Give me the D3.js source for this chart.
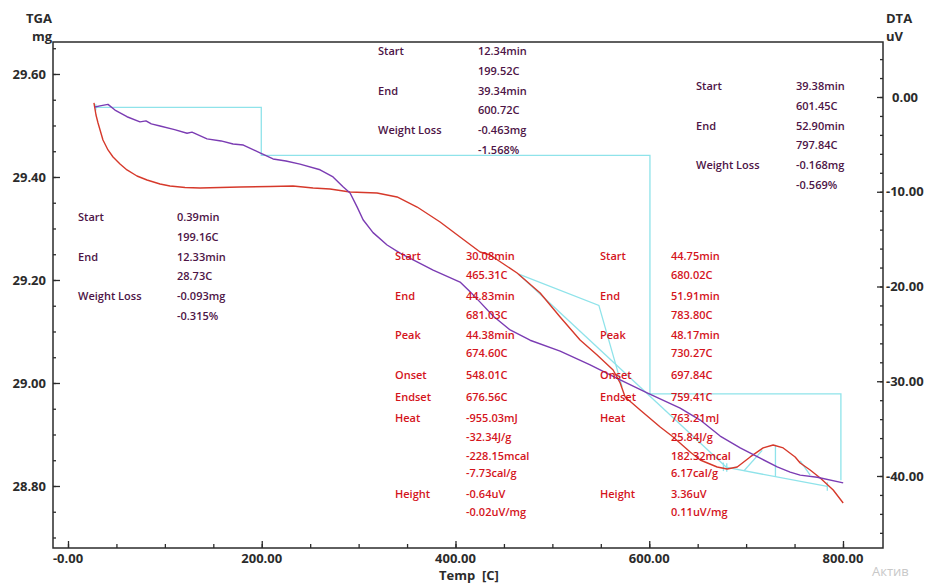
<!DOCTYPE html>
<html>
<head>
<meta charset="utf-8">
<script src="https://cdn.jsdelivr.net/npm/d3@7"></script>
<style>
  html, body { margin: 0; padding: 0; background: #fff; }
  svg { display: block; }
  text { font-family: "Open Sans", "Noto Sans", sans-serif; }
</style>
</head>
<body>
<svg id="chart" width="929" height="583"></svg>
<script>
// ---- TGA curve: temperature (C) and sample mass (mg) ----
const tgaTemp = [27.9, 33.0, 41.3, 48.5, 60.9, 74.3, 80.5, 86.0, 95.0, 110.0, 122.9, 128.0, 143.5,
  158.0, 170.4, 181.0, 198.2, 211.7, 225.0, 239.5, 260.2, 273.6, 283.9, 291.2, 298.4, 304.6, 314.9,
  329.4, 342.8, 360.4, 376.9, 404.7, 415.1, 425.4, 438.8, 456.4, 477.0, 508.0, 539.0, 570.0, 597.8,
  631.9, 652.6, 673.2, 693.9, 714.5, 732.1, 745.5, 755.8, 773.4, 800.2];
const tgaMass = [29.536, 29.538, 29.541, 29.530, 29.517, 29.507, 29.509, 29.503, 29.499, 29.492,
  29.485, 29.487, 29.474, 29.470, 29.464, 29.462, 29.447, 29.435, 29.431, 29.425, 29.414, 29.400,
  29.381, 29.369, 29.342, 29.317, 29.292, 29.268, 29.252, 29.235, 29.219, 29.196, 29.177, 29.157,
  29.130, 29.103, 29.083, 29.062, 29.035, 29.006, 28.981, 28.951, 28.928, 28.897, 28.874, 28.854,
  28.837, 28.827, 28.821, 28.817, 28.806];

// ---- DTA curve: temperature (C) and signal (uV) ----
const dtaTemp = [26.8, 28.9, 31.0, 36.1, 41.3, 46.5, 53.7, 60.9, 71.2, 81.6, 95.0, 105.3, 120.8,
  136.3, 177.6, 208.6, 232.3, 253.0, 270.5, 291.2, 319.0, 339.7, 360.4, 384.1, 404.7, 425.4, 435.7,
  451.2, 463.6, 487.4, 508.0, 528.6, 546.2, 562.7, 570.0, 575.1, 590.6, 611.3, 624.7, 642.2, 652.6,
  670.1, 680.4, 690.8, 704.2, 717.6, 727.9, 738.3, 750.6, 755.8, 766.1, 776.5, 789.9, 800.2];
const dtaSignal = [-0.63, -1.90, -2.74, -4.54, -5.59, -6.33, -7.07, -7.70, -8.34, -8.76, -9.18,
  -9.39, -9.55, -9.60, -9.50, -9.45, -9.39, -9.60, -9.71, -10.03, -10.13, -10.55, -11.61, -13.19,
  -14.78, -16.36, -16.68, -17.73, -18.58, -20.69, -23.22, -25.65, -27.23, -28.81, -30.18, -31.66,
  -33.03, -34.83, -35.88, -37.47, -38.31, -39.05, -39.26, -39.05, -37.99, -37.04, -36.73, -37.04,
  -37.99, -38.63, -39.37, -40.21, -41.48, -42.85];

// ---- TGA weight-loss steps ----
const stepTemps = [28.73, 199.52, 600.72, 797.84];
const stepLoss = [0.093, 0.463, 0.168];
const stepStartMass = 29.535;

// ---- DTA peak analysis (temperature C, signal uV) ----
const peak1Baseline = [[465.31, -18.7], [681.03, -39.2]];
const peak1Onset = [[465.31, -18.7], [548.01, -22.0], [572.0, -30.6]];
const peak1Marks = [676.56, 680.02];
const peak2Baseline = [[680.02, -39.1], [783.80, -41.1]];
const peak2PeakTemp = 730.27;
const peak2Height = 3.36;
const peak2OnsetTemp = 697.84;
const peak2OnsetTangentEnd = [716.6, -37.3];
const peak2EndsetTangent = [[755.8, -38.4], [766.1, -39.9]];

// ---- tick values ----
const xMajorTicks = [0, 200, 400, 600, 800];
const xTickLabels = ["-0.00", "200.00", "400.00", "600.00", "800.00"];
const xMinorTicks = d3.range(0, 801, 50);
const yLeftMajor = [28.80, 29.00, 29.20, 29.40, 29.60];
const yLeftMinor = d3.range(28.70, 29.66, 0.05);
const yRightMajor = [0, -10, -20, -30, -40];
const yRightMinor = d3.range(-46, 5, 2);

// ---- annotation blocks ----
const tgaNotes = [
  { x: 78, vx: 177, y: 217, rows: [["Start", "0.39min"], ["", "199.16C"], ["End", "12.33min"], ["", "28.73C"], ["Weight Loss", "-0.093mg"], ["", "-0.315%"]] },
  { x: 378, vx: 478, y: 51, rows: [["Start", "12.34min"], ["", "199.52C"], ["End", "39.34min"], ["", "600.72C"], ["Weight Loss", "-0.463mg"], ["", "-1.568%"]] },
  { x: 696, vx: 796, y: 86, rows: [["Start", "39.38min"], ["", "601.45C"], ["End", "52.90min"], ["", "797.84C"], ["Weight Loss", "-0.168mg"], ["", "-0.569%"]] }
];
const dtaRowsY = [256, 275, 296, 315, 335, 353, 375, 397, 418, 437, 456, 473, 494, 512];
const dtaNotes = [
  { x: 395, vx: 466, rows: [["Start", "30.08min"], ["", "465.31C"], ["End", "44.83min"], ["", "681.03C"], ["Peak", "44.38min"], ["", "674.60C"], ["Onset", "548.01C"], ["Endset", "676.56C"], ["Heat", "-955.03mJ"], ["", "-32.34J/g"], ["", "-228.15mcal"], ["", "-7.73cal/g"], ["Height", "-0.64uV"], ["", "-0.02uV/mg"]] },
  { x: 600, vx: 671, rows: [["Start", "44.75min"], ["", "680.02C"], ["End", "51.91min"], ["", "783.80C"], ["Peak", "48.17min"], ["", "730.27C"], ["Onset", "697.84C"], ["Endset", "759.41C"], ["Heat", "763.21mJ"], ["", "25.84J/g"], ["", "182.32mcal"], ["", "6.17cal/g"], ["Height", "3.36uV"], ["", "0.11uV/mg"]] }
];

const svg = d3.select("#chart");
const frame = { left: 53, right: 883, top: 42, bottom: 548 };

const x = d3.scaleLinear().domain([-15.48, 841.3]).range([frame.left, frame.right]);
const yL = d3.scaleLinear().domain([28.6796, 29.6621]).range([frame.bottom, frame.top]);
const yR = d3.scaleLinear().domain([-47.6, 5.805]).range([frame.bottom, frame.top]);

const axisColor = "#2b2b2b";
const cyan = "#8fe3ea";
const purple = "#7b3cb3";
const red = "#d6392b";
const noteDark = "#4d1446";
const noteRed = "#d4141c";

// plot frame
svg.append("rect")
  .attr("x", frame.left).attr("y", frame.top)
  .attr("width", frame.right - frame.left).attr("height", frame.bottom - frame.top)
  .attr("fill", "none").attr("stroke", axisColor).attr("stroke-width", 1.5);

// left axis (TGA)
const gL = svg.append("g").attr("transform", `translate(${frame.left},0)`);
gL.call(d3.axisRight(yL).tickValues(yLeftMinor).tickSize(3).tickFormat(""));
gL.call(g => g.append("g").call(d3.axisRight(yL).tickValues(yLeftMajor).tickSize(7).tickFormat("")));
gL.selectAll(".domain").remove();
gL.selectAll("line").attr("stroke", axisColor).attr("stroke-width", 1.3);
svg.append("g").selectAll("text").data(yLeftMajor).join("text")
  .attr("x", 46).attr("y", d => yL(d)).attr("dy", "0.36em")
  .attr("text-anchor", "end").attr("font-size", 13).attr("font-weight", 700)
  .attr("fill", axisColor).text(d => d.toFixed(2));

// right axis (DTA), ticks drawn inward
const gR = svg.append("g").attr("transform", `translate(${frame.right},0)`);
gR.call(d3.axisLeft(yR).tickValues(yRightMinor).tickSize(3).tickFormat(""));
gR.call(g => g.append("g").call(d3.axisLeft(yR).tickValues(yRightMajor).tickSize(6).tickFormat("")));
gR.selectAll(".domain").remove();
gR.selectAll("line").attr("stroke", axisColor).attr("stroke-width", 1.3);
svg.append("g").selectAll("text").data(yRightMajor).join("text")
  .attr("x", d => d < 0 ? 886 : 892).attr("y", d => yR(d)).attr("dy", "0.36em")
  .attr("text-anchor", "start").attr("font-size", 13).attr("font-weight", 700)
  .attr("fill", axisColor).text(d => d.toFixed(2));

// bottom axis (temperature)
const gB = svg.append("g").attr("transform", `translate(0,${frame.bottom})`);
gB.call(d3.axisTop(x).tickValues(xMinorTicks).tickSize(4).tickFormat(""));
gB.call(g => g.append("g").call(d3.axisTop(x).tickValues(xMajorTicks).tickSize(7).tickFormat("")));
gB.selectAll(".domain").remove();
gB.selectAll("line").attr("stroke", axisColor).attr("stroke-width", 1.3);
svg.append("g").selectAll("text").data(xMajorTicks).join("text")
  .attr("x", d => x(d)).attr("y", 563)
  .attr("text-anchor", "middle").attr("font-size", 13).attr("font-weight", 700)
  .attr("fill", axisColor).text((d, i) => xTickLabels[i]);

// axis titles
const title = (tx, ty, anchor, s) => svg.append("text").attr("x", tx).attr("y", ty)
  .attr("text-anchor", anchor).attr("font-size", 13).attr("font-weight", 700)
  .attr("fill", axisColor).text(s);
title(52, 23, "end", "TGA");
title(52, 41, "end", "mg");
title(886, 23, "start", "DTA");
title(886, 41, "start", "uV");
title(469, 580, "middle", "Temp  [C]").style("white-space", "pre");

// TGA weight-loss step line
const stepPts = [[stepTemps[0], stepStartMass]];
let level = stepStartMass;
stepLoss.forEach((loss, i) => {
  stepPts.push([stepTemps[i + 1], level]);
  level = level - loss;
  stepPts.push([stepTemps[i + 1], level]);
});
const tgaLine = d3.line().x(d => x(d[0])).y(d => yL(d[1]));
const dtaLine = d3.line().x(d => x(d[0])).y(d => yR(d[1]));

svg.append("path").attr("d", tgaLine(stepPts))
  .attr("fill", "none").attr("stroke", cyan).attr("stroke-width", 1.3);
svg.append("path").attr("d", tgaLine([[stepTemps[0], stepStartMass + 0.006], [stepTemps[0], stepStartMass - 0.006]]))
  .attr("fill", "none").attr("stroke", cyan).attr("stroke-width", 1.3);

// DTA peak analysis lines
const baseAt = (bl, t) => bl[0][1] + (t - bl[0][0]) / (bl[1][0] - bl[0][0]) * (bl[1][1] - bl[0][1]);
const cyanPaths = [
  peak1Baseline,
  peak1Onset,
  peak2Baseline,
  [[peak2PeakTemp, baseAt(peak2Baseline, peak2PeakTemp)], [peak2PeakTemp, baseAt(peak2Baseline, peak2PeakTemp) + peak2Height]],
  [[peak2OnsetTemp, baseAt(peak2Baseline, peak2OnsetTemp)], peak2OnsetTangentEnd],
  peak2EndsetTangent,
  [[peak2Baseline[1][0], peak2Baseline[1][1] + 0.45], [peak2Baseline[1][0], peak2Baseline[1][1] - 0.45]]
];
peak1Marks.forEach(t => {
  const b = baseAt(peak2Baseline, t);
  cyanPaths.push([[t, b + 0.45], [t, b - 0.45]]);
});
svg.append("g").selectAll("path").data(cyanPaths).join("path")
  .attr("d", d => dtaLine(d))
  .attr("fill", "none").attr("stroke", cyan).attr("stroke-width", 1.3);

// DTA curve
const dtaPts = dtaTemp.map((t, i) => [t, dtaSignal[i]]);
svg.append("path").attr("d", dtaLine(dtaPts))
  .attr("fill", "none").attr("stroke", red).attr("stroke-width", 1.4)
  .attr("stroke-linejoin", "round");

// TGA curve
const tgaPts = tgaTemp.map((t, i) => [t, tgaMass[i]]);
svg.append("path").attr("d", tgaLine(tgaPts))
  .attr("fill", "none").attr("stroke", purple).attr("stroke-width", 1.4)
  .attr("stroke-linejoin", "round");

// annotation text
tgaNotes.forEach(n => {
  n.rows.forEach((r, i) => {
    const yy = n.y + i * 19.8;
    if (r[0]) svg.append("text").attr("x", n.x).attr("y", yy).attr("dy", "0.36em")
      .attr("font-size", 11).attr("font-weight", 600).attr("fill", noteDark).text(r[0]);
    svg.append("text").attr("x", n.vx).attr("y", yy).attr("dy", "0.36em")
      .attr("font-size", 11).attr("font-weight", 600).attr("fill", noteDark).text(r[1]);
  });
});
dtaNotes.forEach(n => {
  n.rows.forEach((r, i) => {
    const yy = dtaRowsY[i];
    if (r[0]) svg.append("text").attr("x", n.x).attr("y", yy).attr("dy", "0.36em")
      .attr("font-size", 11).attr("font-weight", 600).attr("fill", noteRed).text(r[0]);
    svg.append("text").attr("x", n.vx).attr("y", yy).attr("dy", "0.36em")
      .attr("font-size", 11).attr("font-weight", 600).attr("fill", noteRed).text(r[1]);
  });
});

// system overlay text in the corner
svg.append("text").attr("x", 872).attr("y", 576)
  .attr("font-size", 13).attr("fill", "#c8c8c8").text("Актив");
</script>
</body>
</html>
